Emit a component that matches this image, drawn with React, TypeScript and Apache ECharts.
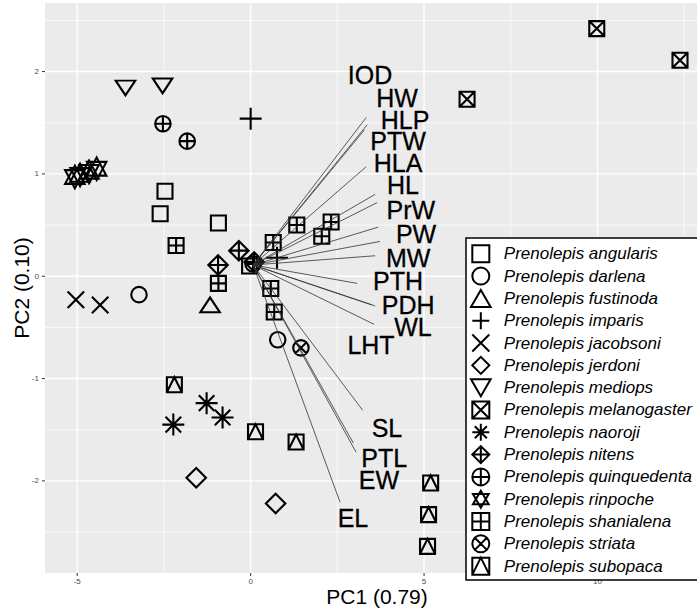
import React, { useEffect, useRef } from "react";
import * as echarts from "echarts";

const FONT = "'Liberation Sans', Arial, Helvetica, sans-serif";

// Axis ranges (ggplot panel with 5% expansion, cropped on the right)
const X_MIN = -5.93;
const X_MAX = 12.87;
const Y_MIN = -2.9;
const Y_MAX = 2.67;

const xMajor = [-5, 0, 5, 10];
const xMinor = [-2.5, 2.5, 7.5, 12.5];
const yMajor = [-2, -1, 0, 1, 2];
const yMinor = [-2.5, -1.5, -0.5, 0.5, 1.5, 2.5];
const xTickLabels = ["-5", "0", "5", "10"];
const yTickLabels = ["-2", "-1", "0", "1", "2"];

const xTitle = "PC1 (0.79)";
const yTitle = "PC2 (0.10)";

// Species
const speciesNames = [
  "Prenolepis angularis",
  "Prenolepis darlena",
  "Prenolepis fustinoda",
  "Prenolepis imparis",
  "Prenolepis jacobsoni",
  "Prenolepis jerdoni",
  "Prenolepis mediops",
  "Prenolepis melanogaster",
  "Prenolepis naoroji",
  "Prenolepis nitens",
  "Prenolepis quinquedenta",
  "Prenolepis rinpoche",
  "Prenolepis shanialena",
  "Prenolepis striata",
  "Prenolepis subopaca",
];

const angularis = [[-2.47, 0.83], [-2.61, 0.61], [-0.93, 0.52], [-0.03, 0.1]];
const darlena = [[-3.22, -0.18], [0.78, -0.62]];
const fustinoda = [[-1.17, -0.28]];
const imparis = [[0.0, 1.54], [0.76, 0.18]];
const jacobsoni = [[-5.04, -0.23], [-4.34, -0.28]];
const jerdoni = [[-1.57, -1.97], [0.72, -2.22]];
const mediops = [[-3.61, 1.84], [-2.54, 1.86]];
const melanogaster = [[6.24, 1.73], [9.98, 2.42], [12.38, 2.11]];
const naoroji = [[-2.23, -1.45], [-1.27, -1.24], [-0.81, -1.38]];
const nitens = [[-0.94, 0.11], [-0.34, 0.25], [0.1, 0.14]];
const quinquedenta = [[-2.53, 1.49], [-1.83, 1.32], [0.07, 0.12]];
const rinpoche = [[-5.07, 0.97], [-4.92, 0.99], [-4.66, 1.02], [-4.44, 1.05]];
const shanialena = [
  [-2.15, 0.3], [-0.93, -0.07], [0.65, 0.33], [1.33, 0.5],
  [2.05, 0.39], [2.32, 0.53], [0.58, -0.12], [0.68, -0.35],
];
const striata = [[1.45, -0.7]];
const subopaca = [
  [-2.2, -1.06], [0.14, -1.52], [1.31, -1.62],
  [5.19, -2.02], [5.13, -2.33], [5.1, -2.64],
];

const speciesPoints = [
  angularis, darlena, fustinoda, imparis, jacobsoni, jerdoni, mediops,
  melanogaster, naoroji, nitens, quinquedenta, rinpoche, shanialena, striata, subopaca,
];

// Loading vectors
const loadingOrigin = [0.07, 0.11];
const loadingNames = [
  "IOD", "HW", "HLP", "PTW", "HLA", "HL", "PrW", "PW", "MW",
  "PTH", "PDH", "WL", "LHT", "SL", "PTL", "EW", "EL",
];
const loadingEnds = [
  [3.33, 1.55], [3.36, 1.48], [3.28, 1.43], [3.33, 1.07], [3.59, 0.8],
  [3.65, 0.72], [3.68, 0.48], [3.73, 0.34], [3.59, 0.2], [3.07, -0.07],
  [3.49, -0.28], [3.59, -0.29], [3.56, -0.47], [3.23, -1.31], [2.96, -1.63],
  [3.04, -1.72], [2.58, -2.21],
];
const loadingLabelPos = [
  [3.44, 1.97], [4.22, 1.74], [4.45, 1.53], [4.25, 1.32], [4.25, 1.11],
  [4.39, 0.89], [4.62, 0.65], [4.77, 0.41], [4.54, 0.18], [4.25, -0.05],
  [4.54, -0.28], [4.68, -0.5], [3.47, -0.67], [3.93, -1.48], [3.85, -1.78],
  [3.7, -1.99], [2.95, -2.36],
];

// Symbol shapes (ggplot pch 0..14)
const SQ = "M0 0L10 0L10 10L0 10Z";
const CIR = "M0 5A5 5 0 1 1 10 5A5 5 0 1 1 0 5Z";
const PLUS = "M5 0L5 10M0 5L10 5";
const CROSS = "M0 0L10 10M10 0L0 10";
const DIA = "M5 0L10 5L5 10L0 5Z";
const CIR_CROSS = "M1.46 1.46L8.54 8.54M8.54 1.46L1.46 8.54";

const shapes: { path: string; size: number[] }[] = [
  { path: SQ, size: [15, 15] },
  { path: CIR, size: [15.5, 15.5] },
  { path: "M5 0L10 8.66L0 8.66Z", size: [19.5, 16.9] },
  { path: PLUS, size: [22, 22] },
  { path: CROSS, size: [16.5, 16.5] },
  { path: DIA, size: [19.5, 19.5] },
  { path: "M0 0L10 0L5 8.66Z", size: [19.5, 16.9] },
  { path: SQ + CROSS, size: [15, 15] },
  { path: PLUS + "M1.46 1.46L8.54 8.54M8.54 1.46L1.46 8.54", size: [22, 22] },
  { path: DIA + PLUS, size: [19.5, 19.5] },
  { path: CIR + PLUS, size: [15.5, 15.5] },
  { path: "M5 0L10 8.66L0 8.66ZM0 2.14L10 2.14L5 10.8Z", size: [21, 22.7] },
  { path: SQ + PLUS, size: [15, 15] },
  { path: CIR + CIR_CROSS, size: [15.5, 15.5] },
  { path: SQ + "M0 10L5 0L10 10", size: [15, 15] },
];

const CHART_W = 720;
const VIEW_W = 697;
const VIEW_H = 609;

export default function App() {
  const ref = useRef<HTMLDivElement>(null);

  useEffect(() => {
    if (!ref.current) return;
    const chart = echarts.init(ref.current, null, { renderer: "svg" });

    const gridSeries = {
      type: "custom",
      z: 0,
      silent: true,
      data: [[0, 0]],
      renderItem: (_params: any, api: any) => {
        const children: any[] = [];
        const [left, bottom] = api.coord([X_MIN, Y_MIN]);
        const [right, top] = api.coord([X_MAX, Y_MAX]);
        xMinor.forEach((v) => {
          const [px] = api.coord([v, Y_MIN]);
          children.push({ type: "line", shape: { x1: px, y1: bottom, x2: px, y2: top }, style: { stroke: "#fff", lineWidth: 0.7 } });
        });
        yMinor.forEach((v) => {
          const py = api.coord([X_MIN, v])[1];
          children.push({ type: "line", shape: { x1: left, y1: py, x2: right, y2: py }, style: { stroke: "#fff", lineWidth: 0.7 } });
        });
        xMajor.forEach((v, i) => {
          const [px] = api.coord([v, Y_MIN]);
          children.push({ type: "line", shape: { x1: px, y1: bottom, x2: px, y2: top }, style: { stroke: "#fff", lineWidth: 1.4 } });
          children.push({ type: "line", shape: { x1: px, y1: bottom, x2: px, y2: bottom + 3 }, style: { stroke: "#333", lineWidth: 1 } });
          children.push({
            type: "text", x: px, y: bottom + 8.5,
            style: { text: xTickLabels[i], fill: "#4d4d4d", fontSize: 8, fontFamily: FONT, align: "center", verticalAlign: "middle", textAlign: "center", textVerticalAlign: "middle" },
          });
        });
        yMajor.forEach((v, i) => {
          const py = api.coord([X_MIN, v])[1];
          children.push({ type: "line", shape: { x1: left, y1: py, x2: right, y2: py }, style: { stroke: "#fff", lineWidth: 1.4 } });
          children.push({ type: "line", shape: { x1: left - 3, y1: py, x2: left, y2: py }, style: { stroke: "#333", lineWidth: 1 } });
          children.push({
            type: "text", x: left - 6, y: py,
            style: { text: yTickLabels[i], fill: "#4d4d4d", fontSize: 8, fontFamily: FONT, align: "right", verticalAlign: "middle", textAlign: "right", textVerticalAlign: "middle" },
          });
        });
        return { type: "group", children };
      },
    };

    const speciesSeries = speciesNames.map((name, i) => ({
      type: "scatter",
      name,
      z: 2,
      data: speciesPoints[i],
      symbol: "path://" + shapes[i].path,
      symbolSize: shapes[i].size,
      symbolKeepAspect: true,
      itemStyle: { color: "rgba(0,0,0,0)", borderColor: "#000", borderWidth: 2.1, opacity: 1 },
      emphasis: { disabled: true },
    }));

    const lineSeries = {
      type: "lines",
      coordinateSystem: "cartesian2d",
      z: 3,
      silent: true,
      data: loadingEnds.map((e) => ({ coords: [loadingOrigin, e] })),
      lineStyle: { color: "#333", width: 0.8, opacity: 1, curveness: 0 },
    };

    const labelSeries = {
      type: "scatter",
      name: "loadings",
      z: 4,
      silent: true,
      symbolSize: 1,
      itemStyle: { color: "rgba(0,0,0,0)" },
      data: loadingNames.map((n, i) => ({ name: n, value: loadingLabelPos[i] })),
      label: {
        show: true,
        position: "inside",
        formatter: "{b}",
        fontSize: 25,
        color: "#000",
        opacity: 1,
        textBorderColor: "#000",
        textBorderWidth: 0.3,
        fontFamily: FONT,
      },
    };

    chart.setOption({
      animation: false,
      backgroundColor: "#fff",
      grid: {
        left: 45,
        right: CHART_W - VIEW_W,
        top: 3,
        bottom: 36,
        show: true,
        backgroundColor: "#EBEBEB",
        borderWidth: 0,
      },
      xAxis: { type: "value", min: X_MIN, max: X_MAX, show: false },
      yAxis: { type: "value", min: Y_MIN, max: Y_MAX, show: false },
      legend: {
        data: speciesNames,
        orient: "vertical",
        left: 466,
        top: 238,
        padding: [6.3, 26, 4.4, 4],
        itemWidth: 20,
        itemHeight: 17,
        itemGap: 3.31,
        backgroundColor: "#fff",
        borderColor: "#000",
        borderWidth: 1.5,
        borderRadius: 0,
        selectedMode: false,
        itemStyle: { borderWidth: 2 },
        textStyle: {
          fontSize: 17,
          fontStyle: "italic",
          color: "#000",
          fontFamily: FONT,
          lineHeight: 18,
          padding: [0, 0, 0, 8],
        },
      },
      graphic: [
        {
          type: "text",
          x: 377,
          y: 596,
          style: { text: xTitle, fontSize: 21, fontFamily: FONT, fill: "#000", align: "center", verticalAlign: "middle", textAlign: "center", textVerticalAlign: "middle" },
        },
        {
          type: "text",
          x: 21,
          y: 288,
          rotation: Math.PI / 2,
          style: { text: yTitle, fontSize: 21, fontFamily: FONT, fill: "#000", align: "center", verticalAlign: "middle", textAlign: "center", textVerticalAlign: "middle" },
        },
      ],
      series: [gridSeries, ...speciesSeries, lineSeries, labelSeries],
    });

    return () => chart.dispose();
  }, []);

  return (
    <div
      style={{ position: "fixed", left: 0, top: 0, width: VIEW_W, height: VIEW_H, overflow: "hidden" }}
    >
      <div ref={ref} style={{ width: CHART_W, height: VIEW_H }} />
    </div>
  );
}
